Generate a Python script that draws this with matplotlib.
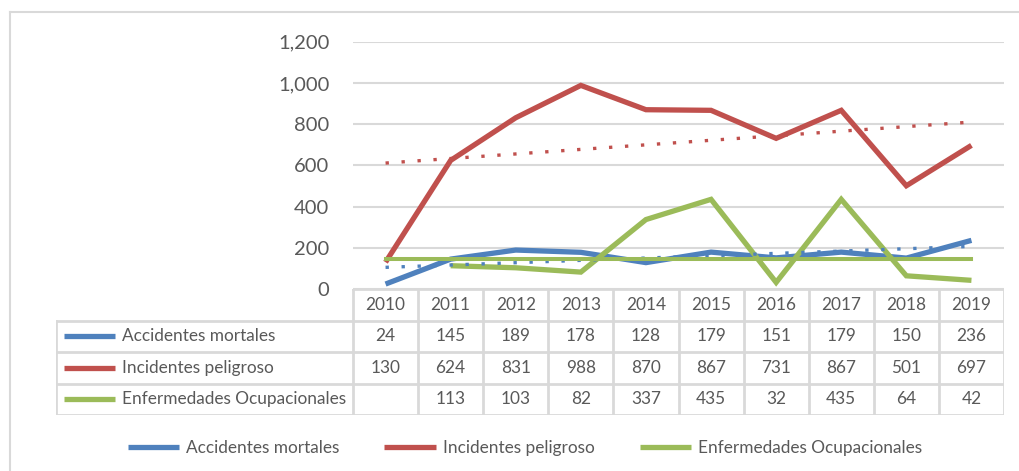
"""Accidentes, incidentes y enfermedades ocupacionales 2010-2019 (line chart with data table)."""

import matplotlib

matplotlib.use("Agg")
import matplotlib.pyplot as plt
import numpy as np
from matplotlib.lines import Line2D
from matplotlib.ticker import FuncFormatter, MultipleLocator

YEARS = ["2010", "2011", "2012", "2013", "2014", "2015", "2016", "2017", "2018", "2019"]
SERIES_NAMES = ["Accidentes mortales", "Incidentes peligroso", "Enfermedades Ocupacionales"]
ACCIDENTES = [24, 145, 189, 178, 128, 179, 151, 179, 150, 236]
INCIDENTES = [130, 624, 831, 988, 870, 867, 731, 867, 501, 697]
ENFERMEDADES = [None, 113, 103, 82, 337, 435, 32, 435, 64, 42]
# flat green reference line drawn across the whole period
ENFERMEDADES_LEVEL = 144

COLORS = ["#4F81BD", "#C0504D", "#9BBB59"]
TEXT = "#595959"
GRID = "#D9D9D9"

W, H = 1020, 471
PLOT_LEFT, PLOT_RIGHT = 353, 1004
PLOT_TOP, PLOT_BOTTOM = 41.7, 289
TABLE_LEFT, TABLE_BOTTOM = 56, 415


def fx(px):
    return px / W


def fy(py):
    return 1 - py / H


def main():
    plt.rcParams.update({"font.family": ["Lato", "DejaVu Sans"], "font.size": 12.4})
    fig = plt.figure(figsize=(W / 100, H / 100), dpi=100)

    # outer chart frame (only top and left edges are visible)
    fig.add_artist(Line2D([fx(10), fx(10)], [fy(12), 0], color=GRID, lw=1.5))
    fig.add_artist(Line2D([fx(10), 1], [fy(12), fy(12)], color=GRID, lw=1.5))

    ax = fig.add_axes(
        [fx(PLOT_LEFT), fy(PLOT_BOTTOM), fx(PLOT_RIGHT - PLOT_LEFT), (PLOT_BOTTOM - PLOT_TOP) / H]
    )
    x = np.arange(len(YEARS))
    data = [
        np.array(ACCIDENTES, dtype=float),
        np.array(INCIDENTES, dtype=float),
        np.array([np.nan if v is None else v for v in ENFERMEDADES], dtype=float),
    ]
    for values, color in zip(data, COLORS):
        ax.plot(x, values, color=color, lw=3.8, solid_capstyle="butt", solid_joinstyle="miter", zorder=3)

    # linear trendlines for the first two series
    for values, color in zip(data[:2], COLORS[:2]):
        slope, intercept = np.polyfit(x, values, 1)
        ax.plot(x, slope * x + intercept, color=color, lw=2.4, ls=(0, (1, 3.8)),
                dash_capstyle="butt", zorder=4)
    ax.plot(x[[0, -1]], [ENFERMEDADES_LEVEL] * 2, color=COLORS[2], lw=2.9,
            solid_capstyle="projecting", zorder=5)

    ax.set_xlim(-0.5, len(YEARS) - 0.5)
    ax.set_ylim(0, 1200)
    ax.yaxis.set_major_locator(MultipleLocator(200))
    ax.yaxis.set_major_formatter(FuncFormatter(lambda v, _: f"{v:,.0f}"))
    ax.set_xticks([])
    ax.tick_params(axis="y", length=0, pad=17, labelsize=14.5, labelcolor=TEXT)
    ax.grid(axis="y", color=GRID, lw=1.5)
    ax.set_axisbelow(True)
    for spine in ax.spines.values():
        spine.set_visible(False)

    # data table below the plot, columns aligned with the categories
    col = (PLOT_RIGHT - PLOT_LEFT) / len(YEARS)
    left = -0.5 - (PLOT_LEFT - TABLE_LEFT) / col
    tab = fig.add_axes(
        [fx(TABLE_LEFT), fy(TABLE_BOTTOM), fx(PLOT_RIGHT - TABLE_LEFT), (TABLE_BOTTOM - PLOT_BOTTOM) / H]
    )
    tab.set_xlim(left, len(YEARS) - 0.5)
    tab.set_ylim(4, 0)
    tab.axis("off")
    line_kw = dict(color=GRID, lw=2, solid_capstyle="projecting")
    tab.plot([-0.5, len(YEARS) - 0.5], [0, 0], **line_kw)
    for row in range(1, 5):
        tab.plot([left, len(YEARS) - 0.5], [row, row], **line_kw)
    for k in range(len(YEARS) + 1):
        tab.plot([k - 0.5, k - 0.5], [0, 4], **line_kw)
    tab.plot([left, left], [1, 4], **line_kw)

    for i, year in enumerate(YEARS):
        tab.text(i, 0.5, year, ha="center", va="center", color=TEXT)
    rows = [ACCIDENTES, INCIDENTES, ENFERMEDADES]
    for r, (name, values, color) in enumerate(zip(SERIES_NAMES, rows, COLORS), start=1):
        y = r + 0.5
        tab.plot([left + 8 / col, left + 59 / col], [y, y], color=color, lw=3.8, solid_capstyle="butt")
        tab.text(left + 66 / col, y, name, ha="left", va="center", color=TEXT)
        for i, v in enumerate(values):
            if v is not None:
                tab.text(i, y, f"{v}", ha="center", va="center", color=TEXT)

    handles = [Line2D([], [], color=c, lw=3.8, solid_capstyle="butt") for c in COLORS]
    fig.legend(
        handles,
        SERIES_NAMES,
        loc="center",
        bbox_to_anchor=(fx(525), fy(448)),
        ncol=3,
        frameon=False,
        handlelength=3.0,
        handletextpad=0.4,
        columnspacing=2.6,
        labelcolor=TEXT,
    )

    fig.savefig("out.png", dpi=100)


if __name__ == "__main__":
    main()
